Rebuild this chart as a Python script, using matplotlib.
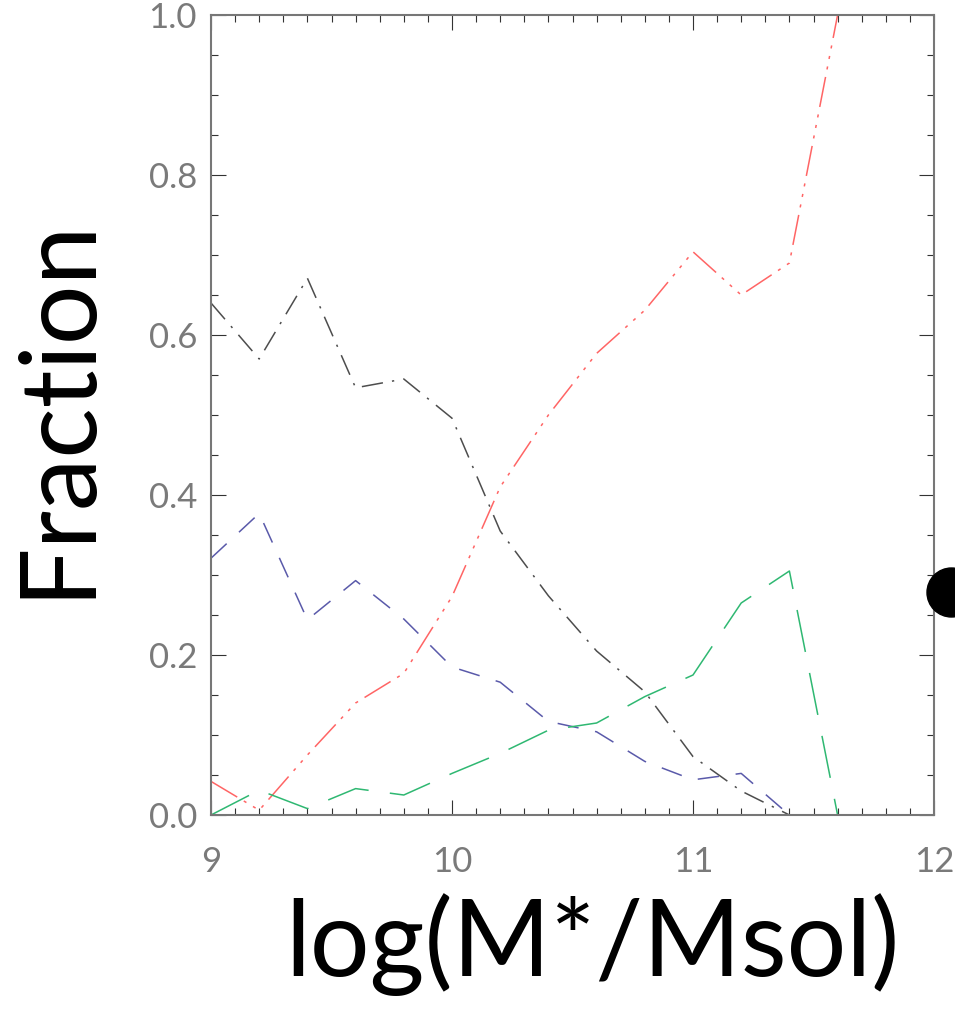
import numpy as np
import matplotlib
matplotlib.use('Agg')
import matplotlib.pyplot as plt
from matplotlib.patches import Circle
from matplotlib.ticker import MultipleLocator, FormatStrFormatter

# mass bins and fractions
log_mass = [9.0, 9.2, 9.4, 9.6, 9.8, 10.0, 10.2, 10.4, 10.6, 10.8, 11.0, 11.2, 11.4, 11.6]
frac_black = [0.640, 0.570, 0.671, 0.534, 0.545, 0.496, 0.355, 0.274, 0.205, 0.154, 0.073, 0.030, 0.0, 0.0]
frac_red = [0.042, 0.006, 0.075, 0.140, 0.177, 0.273, 0.410, 0.500, 0.577, 0.631, 0.704, 0.650, 0.690, 1.0]
frac_blue = [0.321, 0.377, 0.244, 0.293, 0.245, 0.185, 0.166, 0.117, 0.104, 0.067, 0.044, 0.052, 0.0, 0.0]
frac_green = [0.0, 0.031, 0.008, 0.033, 0.025, 0.052, 0.077, 0.106, 0.115, 0.148, 0.175, 0.265, 0.305, 0.0]

fig = plt.figure(figsize=(9.55, 10.14), dpi=100)
ax = fig.add_axes([211/955, 1 - 815/1014, (934 - 211)/955, (815 - 15)/1014])

ax.plot(log_mass, frac_black, color='#4d4d4d', lw=1.1, dashes=[14, 6, 1.5, 6])
ax.plot(log_mass, frac_red, color='#ff6565', lw=1.1, dashes=[20, 5, 2, 5, 2, 5, 2, 5])
ax.plot(log_mass, frac_blue, color='#5a5aaa', lw=1.1, dashes=[14, 11])
ax.plot(log_mass, frac_green, color='#2fb872', lw=1.1, dashes=[28, 14])

ax.set_xlim(9, 12)
ax.set_ylim(0, 1)
ax.xaxis.set_major_locator(MultipleLocator(1))
ax.xaxis.set_minor_locator(MultipleLocator(0.1))
ax.yaxis.set_major_locator(MultipleLocator(0.2))
ax.yaxis.set_minor_locator(MultipleLocator(0.05))
ax.yaxis.set_major_formatter(FormatStrFormatter('%.1f'))

ax.tick_params(which='both', direction='in', top=True, right=True, color='#333333', width=0.8)
ax.tick_params(which='major', length=11)
ax.tick_params(which='minor', length=5)
ax.tick_params(axis='y', pad=10)
ax.tick_params(axis='x', pad=22)
for lab in ax.get_xticklabels() + ax.get_yticklabels():
    lab.set_fontproperties(dict(family='Lato', weight='normal', size=25))
    lab.set_color('#7a7a7a')

for sp in ax.spines.values():
    sp.set_color('#777777')
    sp.set_linewidth(1.5)

fig.text(57/955, 1 - 407/1014, 'Fraction', rotation=90, ha='center', va='center',
         family='Lato', fontsize=76, color='black')
fig.text(592/955, 1 - 945/1014, 'log(M*/Msol)', ha='center', va='center',
         family='Lato', fontsize=76, color='black')

# black dot cut off by the right edge
fig.add_artist(Circle((951.5/100, (1014 - 592.5)/100), 0.245, transform=fig.dpi_scale_trans,
                      color='black', zorder=10))

fig.savefig('out.png', dpi=100)
